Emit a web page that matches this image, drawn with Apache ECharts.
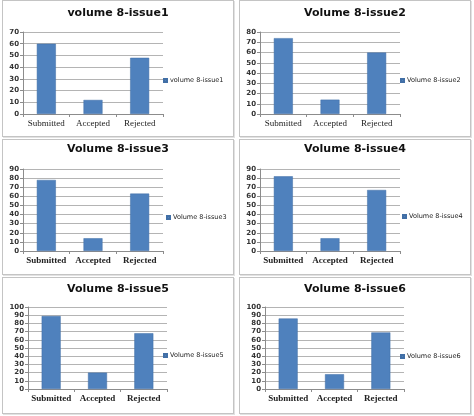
<!DOCTYPE html>
<html>
<head>
<meta charset="utf-8">
<script src="https://cdn.jsdelivr.net/npm/echarts@6/dist/echarts.min.js"></script>
<style>
html, body { margin: 0; padding: 0; background: #fff; }
.panel { position: absolute; border: 1px solid #c4c4c4; box-shadow: 1px 1px 0 #e2e2e2; }
.panel div.chart { position: absolute; left: 0; top: 0; width: 100%; height: 100%; }
</style>
</head>
<body>
<div class="panel" style="left:2px;top:0px;width:230px;height:135px"><div class="chart" id="chart1"></div></div>
<div class="panel" style="left:239px;top:0px;width:230px;height:135px"><div class="chart" id="chart2"></div></div>
<div class="panel" style="left:2px;top:139px;width:230px;height:134px"><div class="chart" id="chart3"></div></div>
<div class="panel" style="left:239px;top:139px;width:230px;height:134px"><div class="chart" id="chart4"></div></div>
<div class="panel" style="left:2px;top:277px;width:230px;height:135px"><div class="chart" id="chart5"></div></div>
<div class="panel" style="left:239px;top:277px;width:230px;height:135px"><div class="chart" id="chart6"></div></div>
<script>
var categories = ['Submitted', 'Accepted', 'Rejected'];
var issue1 = [60, 12, 48];
var issue2 = [74, 14, 60];
var issue3 = [78, 14, 63];
var issue4 = [82, 14, 67];
var issue5 = [89, 20, 68];
var issue6 = [86, 18, 69];
var names = ['volume 8-issue1', 'Volume 8-issue2', 'Volume 8-issue3',
             'Volume 8-issue4', 'Volume 8-issue5', 'Volume 8-issue6'];
var axisMax = [70, 80, 90, 90, 100, 100];

var barColor = '#4f81bd';

window.onload = function(){
    initPanel('chart1', names[0], issue1, axisMax[0], {left: 20, right: 70, top: 31, bottom: 22, title: 7, legendX: 160, legendY: 76, bold: false});
    initPanel('chart2', names[1], issue2, axisMax[1], {left: 20, right: 70, top: 31, bottom: 22, title: 7, legendX: 160, legendY: 76, bold: false});
    initPanel('chart3', names[2], issue3, axisMax[2], {left: 20, right: 70, top: 29, bottom: 23, title: 4, legendX: 163, legendY: 74, bold: true});
    initPanel('chart4', names[3], issue4, axisMax[3], {left: 20, right: 70, top: 29, bottom: 23, title: 4, legendX: 162, legendY: 73, bold: true});
    initPanel('chart5', names[4], issue5, axisMax[4], {left: 25, right: 66, top: 29, bottom: 24, title: 6, legendX: 160, legendY: 74, bold: true});
    initPanel('chart6', names[5], issue6, axisMax[5], {left: 25, right: 66, top: 29, bottom: 24, title: 6, legendX: 160, legendY: 75, bold: true});
};

function initPanel(id, name, values, max, pos){
    var chart = echarts.init(document.getElementById(id));
    var option = {
        animation: false,
        title: {
            text: name,
            left: 'center',
            top: pos.title,
            padding: 0,
            textStyle: {
                fontFamily: 'DejaVu Sans',
                fontSize: 11,
                fontWeight: 'bold',
                color: '#111'
            }
        },
        legend: {
            left: pos.legendX,
            top: pos.legendY,
            padding: 0,
            icon: 'rect',
            itemWidth: 3,
            itemHeight: 3,
            itemGap: 3,
            textStyle: {
                fontFamily: 'DejaVu Sans',
                fontSize: 6.5,
                color: '#222',
                padding: [0, 0, 0, -2]
            },
            data: [name]
        },
        grid: {
            left: pos.left,
            right: pos.right,
            top: pos.top,
            bottom: pos.bottom,
            containLabel: false
        },
        xAxis: {
            type: 'category',
            data: categories,
            axisLine: { lineStyle: { color: '#8c8c8c' } },
            axisTick: { show: true, length: 3, lineStyle: { color: '#8c8c8c' } },
            axisLabel: {
                interval: 0,
                fontFamily: 'Liberation Serif',
                fontSize: 9,
                fontWeight: pos.bold ? 'bold' : 'normal',
                color: '#222',
                margin: 5
            }
        },
        yAxis: {
            type: 'value',
            min: 0,
            max: max,
            interval: 10,
            axisLine: { show: true, lineStyle: { color: '#8c8c8c' } },
            axisTick: { show: true, length: 3, lineStyle: { color: '#8c8c8c' } },
            splitLine: { lineStyle: { color: '#b4b4b4' } },
            axisLabel: {
                fontFamily: 'DejaVu Sans',
                fontSize: 7,
                fontWeight: 'bold',
                color: '#333',
                margin: 4
            }
        },
        series: [
            {
                name: name,
                type: 'bar',
                barWidth: 19,
                data: values,
                itemStyle: { color: barColor, borderColor: '#416fa6', borderWidth: 0.5 }
            }
        ]
    };
    chart.setOption(option);
}
</script>
</body>
</html>
